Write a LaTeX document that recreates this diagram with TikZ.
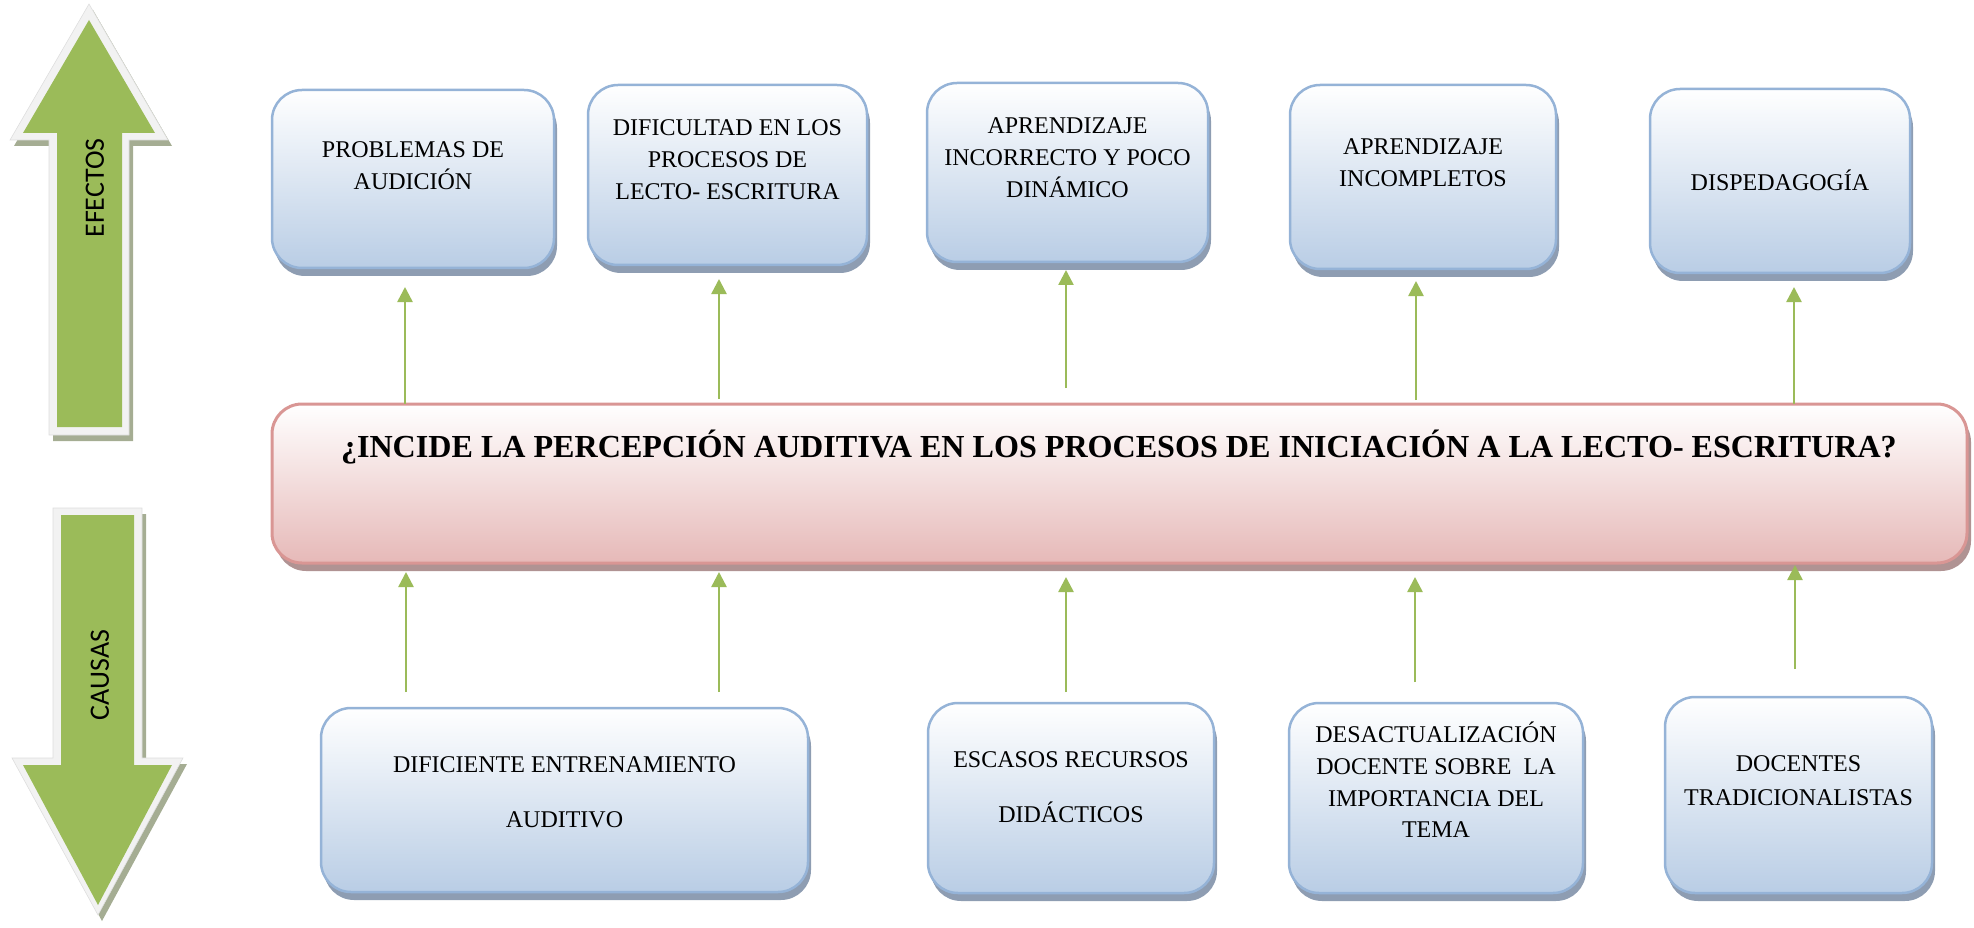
\documentclass[tikz,border=0pt]{standalone}
\usepackage{fontspec}
\setmainfont{Liberation Serif}
\newfontfamily\calfont{Carlito}
\usetikzlibrary{shadows,arrows.meta}
\definecolor{grn}{HTML}{9BBB59}
\definecolor{bbord}{HTML}{95B3D7}
\definecolor{bbot}{HTML}{B9CDE5}
\definecolor{bshad}{HTML}{8E9DB2}
\definecolor{rbord}{HTML}{D99694}
\definecolor{rbot}{HTML}{E6B9B8}
\definecolor{rshad}{HTML}{B09393}
\definecolor{aborder}{HTML}{F2F2F2}
\definecolor{aedge}{HTML}{DEDEDE}
\definecolor{ashad}{HTML}{A5AD93}
\tikzset{
  ebox/.style={draw=bbord, line width=2.5pt, rounded corners=30pt, top color=white, bottom color=bbot, inner sep=0pt,
    drop shadow={shadow xshift=3pt, shadow yshift=-8pt, fill=bshad, opacity=1}},
  qbox/.style={draw=rbord, line width=3pt, rounded corners=30pt, top color=white, bottom color=rbot, inner sep=0pt,
    drop shadow={shadow xshift=4pt, shadow yshift=-8pt, fill=rshad, opacity=1}},
  btxt/.style={align=center, inner sep=0pt, font=\fontsize{24}{32}\selectfont},
  qtxt/.style={inner sep=0pt, font=\bfseries\fontsize{32.1}{36}\selectfont},
  conn/.style={draw=grn, line width=2.5pt, -{Triangle[width=15pt,length=15pt]}},
  bigtxt/.style={rotate=90, inner sep=0pt, font=\calfont\fontsize{28}{30}\selectfont},
  bigborder/.style={fill=aborder, draw=aedge, line width=0.6pt},
}
\begin{document}
\begin{tikzpicture}[x=1pt,y=-1pt]
\useasboundingbox (0,0) rectangle (1974,928);

% big arrows
\begin{scope}[shift={(4,6)}]
  \fill[ashad] (89,4) -- (168,140) -- (129,140) -- (129,435) -- (49,435) -- (49,140) -- (10,140) -- cycle;
  \fill[ashad] (53,508) -- (142,508) -- (142,758) -- (183,758) -- (98,915) -- (12,758) -- (53,758) -- cycle;
\end{scope}
\path[bigborder] (89,4) -- (168,140) -- (129,140) -- (129,435) -- (49,435) -- (49,140) -- (10,140) -- cycle;
\fill[grn] (89,20) -- (155,133) -- (122,133) -- (122,427) -- (57,427) -- (57,133) -- (23,133) -- cycle;
\path[bigborder] (53,508) -- (142,508) -- (142,758) -- (183,758) -- (98,915) -- (12,758) -- (53,758) -- cycle;
\fill[grn] (61,515) -- (134,515) -- (134,765) -- (172,765) -- (98,905) -- (23,765) -- (61,765) -- cycle;
\node[bigtxt] (efectos) at (95,188) {EFECTOS};
\node[bigtxt] (causas) at (100,675) {CAUSAS};

% effect boxes
\node[ebox, minimum width=282pt, minimum height=178pt] (e1) at (413,179) {};
\node[ebox, minimum width=279pt, minimum height=180pt] (e2) at (727.5,175) {};
\node[ebox, minimum width=281pt, minimum height=179pt] (e3) at (1067.5,172.5) {};
\node[ebox, minimum width=266pt, minimum height=184pt] (e4) at (1423,177) {};
\node[ebox, minimum width=260pt, minimum height=184pt] (e5) at (1780,181) {};
\node[btxt] (e1t) at (413,166) {PROBLEMAS DE\\AUDICIÓN};
\node[btxt] (e2t) at (727.5,160) {DIFICULTAD EN LOS\\PROCESOS DE\\LECTO- ESCRITURA};
\node[btxt] (e3t) at (1067.5,158) {APRENDIZAJE\\INCORRECTO Y POCO\\DINÁMICO};
\node[btxt] (e4t) at (1423,163) {APRENDIZAJE\\INCOMPLETOS};
\node[btxt] (e5t) at (1780,180.5) {DISPEDAGOGÍA};

% central question
\node[qbox, minimum width=1695pt, minimum height=159pt] (q) at (1119.5,483.5) {};
\node[qtxt] (qt) at (1119,447) {¿INCIDE LA PERCEPCIÓN AUDITIVA EN LOS PROCESOS DE INICIACIÓN A LA LECTO- ESCRITURA?};

% cause boxes
\node[ebox, minimum width=487pt, minimum height=184pt] (c1) at (564.5,800) {};
\node[ebox, minimum width=286pt, minimum height=190pt] (c2) at (1071,798) {};
\node[ebox, minimum width=294pt, minimum height=190pt] (c3) at (1436,798) {};
\node[ebox, minimum width=267pt, minimum height=196pt] (c4) at (1798.5,795) {};
\node[btxt, font=\fontsize{24}{55}\selectfont] (c1t) at (564.5,792.5) {DIFICIENTE ENTRENAMIENTO\\AUDITIVO};
\node[btxt, font=\fontsize{24}{55}\selectfont] (c2t) at (1071,787.5) {ESCASOS RECURSOS\\DIDÁCTICOS};
\node[btxt, font=\fontsize{24}{31.7}\selectfont] (c3t) at (1436,780) {DESACTUALIZACIÓN\\DOCENTE SOBRE~ LA\\IMPORTANCIA DEL\\TEMA};
\node[btxt, font=\fontsize{24}{34}\selectfont] (c4t) at (1798.5,781) {DOCENTES\\TRADICIONALISTAS};

% connector end points
\coordinate (u1s) at (405,404);  \coordinate (u1e) at (405,287);
\coordinate (u2s) at (719,399);  \coordinate (u2e) at (719,279);
\coordinate (u3s) at (1066,388); \coordinate (u3e) at (1066,270);
\coordinate (u4s) at (1416,400); \coordinate (u4e) at (1416,281);
\coordinate (u5s) at (1794,404); \coordinate (u5e) at (1794,287);
\coordinate (d1s) at (406,692);  \coordinate (d1e) at (406,572);
\coordinate (d2s) at (719,692);  \coordinate (d2e) at (719,572);
\coordinate (d3s) at (1066,692); \coordinate (d3e) at (1066,577);
\coordinate (d4s) at (1415,682); \coordinate (d4e) at (1415,577);
\coordinate (d5s) at (1795,669); \coordinate (d5e) at (1795,565);

\foreach \n in {u1,u2,u3,u4,u5,d1,d2,d3,d4,d5}{
  \draw[conn] (\n s) -- (\n e);
}
\end{tikzpicture}
\end{document}
